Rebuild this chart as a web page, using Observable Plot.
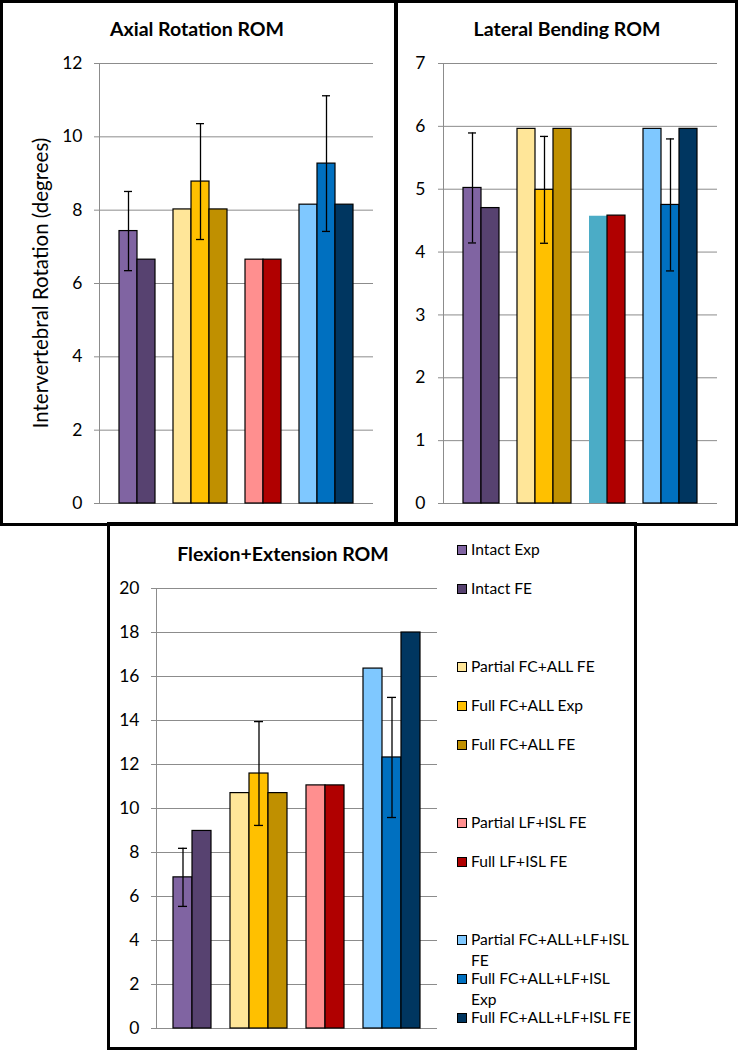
<!DOCTYPE html>
<html>
<head>
<meta charset="utf-8">
<script src="https://cdn.jsdelivr.net/npm/d3@7"></script>
<script src="https://cdn.jsdelivr.net/npm/@observablehq/plot@0.6"></script>
<style>
  html, body { margin: 0; padding: 0; background: #fff; }
  #root { position: relative; width: 738px; height: 1050px; font-family: Lato, "Open Sans", sans-serif; color: #000; overflow: hidden; }
  .box { position: absolute; border: 3px solid #000; box-sizing: border-box; }
  .title { position: absolute; font-weight: bold; font-size: 19.5px; transform: translate(-50%, -50%); white-space: nowrap; }
  .ylab { position: absolute; font-size: 20.5px; white-space: nowrap; transform: translate(-50%, -50%) rotate(-90deg); }
  .plot { position: absolute; }
  .sw { position: absolute; width: 10px; height: 10px; border: 1px solid #000; box-sizing: border-box; }
  .lt { position: absolute; font-size: 15.6px; line-height: 21px; white-space: pre; }
</style>
</head>
<body>
<div id="root"></div>
<script>
// ---- data ----
const slots = ["Intact Exp", "Intact FE", "gap1",
  "Partial FC+ALL FE", "Full FC+ALL Exp", "Full FC+ALL FE", "gap2",
  "Partial LF+ISL FE", "Full LF+ISL FE", "gap3",
  "Partial FC+ALL+LF+ISL FE", "Full FC+ALL+LF+ISL Exp", "Full FC+ALL+LF+ISL FE"];
const seriesNames = ["Intact Exp", "Intact FE", "Partial FC+ALL FE", "Full FC+ALL Exp", "Full FC+ALL FE",
  "Partial LF+ISL FE", "Full LF+ISL FE", "Partial FC+ALL+LF+ISL FE", "Full FC+ALL+LF+ISL Exp", "Full FC+ALL+LF+ISL FE"];
const legendLabels = ["Intact Exp", "Intact FE", "Partial FC+ALL FE", "Full FC+ALL Exp", "Full FC+ALL FE",
  "Partial LF+ISL FE", "Full LF+ISL FE", "Partial FC+ALL+LF+ISL\nFE", "Full FC+ALL+LF+ISL\nExp", "Full FC+ALL+LF+ISL FE"];
const seriesColors = ["#8064A2", "#574270", "#FFE699", "#FFC000", "#C09000",
  "#FF8F8F", "#B00000", "#7FC8FF", "#0070C0", "#003660"];
const lateralColors = ["#8064A2", "#574270", "#FFE699", "#FFC000", "#C09000",
  "#4BACC6", "#B00000", "#7FC8FF", "#0070C0", "#003660"];

const axialValues   = [7.43, 6.65, 8.02, 8.78, 8.02, 6.65, 6.65, 8.15, 9.27, 8.15];
const axialErrors   = [1.08, null, null, 1.58, null, null, null, null, 1.85, null];
const lateralValues = [5.02, 4.70, 5.96, 4.99, 5.96, 4.57, 4.58, 5.96, 4.75, 5.96];
const lateralErrors = [0.875, null, null, 0.85, null, null, null, null, 1.05, null];
const flexValues    = [6.87, 8.98, 10.70, 11.59, 10.70, 11.05, 11.05, 16.36, 12.32, 18.00];
const flexErrors    = [1.32, null, null, 2.36, null, null, null, null, 2.73, null];

const axialTicks   = [0, 2, 4, 6, 8, 10, 12];
const lateralTicks = [0, 1, 2, 3, 4, 5, 6, 7];
const flexTicks    = [0, 2, 4, 6, 8, 10, 12, 14, 16, 18, 20];

const titles = ["Axial Rotation ROM", "Lateral Bending ROM", "Flexion+Extension ROM"];
const yLabel = "Intervertebral Rotation (degrees)";

// ---- drawing ----
const root = document.getElementById("root");
const GRID = "#8c8c8c";

function panel({values, errors, colors, ticks, left, top, width, height, marginLeft, marginRight, marginTop, marginBottom, tickPadding}) {
  const data = seriesNames.map((s, i) => ({slot: s, value: values[i], err: errors[i], color: colors[i],
    stroke: colors[i] === "#4BACC6" ? "none" : "#000"}));
  const errData = data.filter(d => d.err != null);
  const svg = Plot.plot({
    width, height, marginLeft, marginRight, marginTop, marginBottom,
    style: {fontFamily: "Lato, 'Open Sans', sans-serif", fontSize: "17.5px", color: "#000", background: "transparent", overflow: "visible"},
    x: {type: "band", domain: slots, paddingInner: 0, paddingOuter: 0.75, axis: null},
    y: {domain: [0, ticks[ticks.length - 1]], axis: null},
    color: {type: "identity"},
    marks: [
      Plot.gridY(ticks, {stroke: GRID, strokeOpacity: 1, strokeWidth: 1}),
      Plot.axisY(ticks, {tickSize: 5, stroke: GRID, strokeOpacity: 1, fill: "#000", tickPadding, label: null,
        fontSize: 17.5, tickFormat: d => String(d)}),
      Plot.frame({anchor: "left", stroke: GRID}),
      Plot.barY(data, {x: "slot", y: "value", fill: "color", stroke: "stroke", strokeWidth: 1.2}),
      Plot.ruleX(errData, {x: "slot", y1: d => d.value - d.err, y2: d => d.value + d.err, stroke: "#000", strokeWidth: 1.3}),
      Plot.tickY(errData, {x: "slot", y: d => d.value + d.err, stroke: "#000", strokeWidth: 1.3, insetLeft: 5, insetRight: 5}),
      Plot.tickY(errData, {x: "slot", y: d => d.value - d.err, stroke: "#000", strokeWidth: 1.3, insetLeft: 5, insetRight: 5})
    ]
  });
  svg.classList.add("plot");
  svg.style.left = left + "px";
  svg.style.top = top + "px";
  root.appendChild(svg);
}

function box(l, t, w, h) {
  const d = document.createElement("div");
  d.className = "box";
  Object.assign(d.style, {left: l + "px", top: t + "px", width: w + "px", height: h + "px"});
  root.appendChild(d);
}
function label(cls, text, x, y) {
  const d = document.createElement("div");
  d.className = cls;
  d.textContent = text;
  Object.assign(d.style, {left: x + "px", top: y + "px"});
  root.appendChild(d);
}

box(0, 0, 397, 526);
box(395, 0, 343, 526);
box(107, 522, 530, 528);

panel({values: axialValues, errors: axialErrors, colors: seriesColors, ticks: axialTicks,
  left: 0, top: 0, width: 396, height: 522, marginLeft: 99, marginRight: 23, marginTop: 63, marginBottom: 19, tickPadding: 12});
panel({values: lateralValues, errors: lateralErrors, colors: lateralColors, ticks: lateralTicks,
  left: 396, top: 0, width: 342, height: 522, marginLeft: 47, marginRight: 21, marginTop: 63, marginBottom: 19, tickPadding: 13});
panel({values: flexValues, errors: flexErrors, colors: seriesColors, ticks: flexTicks,
  left: 108, top: 524, width: 340, height: 523, marginLeft: 48, marginRight: 11, marginTop: 64, marginBottom: 19, tickPadding: 12});

label("title", titles[0], 197, 28);
label("title", titles[1], 567, 28);
label("title", titles[2], 283, 553);
label("ylab", yLabel, 40, 283);

// legend (one row per slot, gaps left blank)
slots.forEach((s, i) => {
  const k = seriesNames.indexOf(s);
  if (k < 0) return;
  const cy = 550 + i * 39;
  const sw = document.createElement("div");
  sw.className = "sw";
  Object.assign(sw.style, {left: "457px", top: (cy - 5) + "px", background: seriesColors[k]});
  root.appendChild(sw);
  const t = document.createElement("div");
  t.className = "lt";
  t.textContent = legendLabels[k];
  Object.assign(t.style, {left: "471px", top: (cy - 11) + "px"});
  root.appendChild(t);
});
</script>
</body>
</html>
